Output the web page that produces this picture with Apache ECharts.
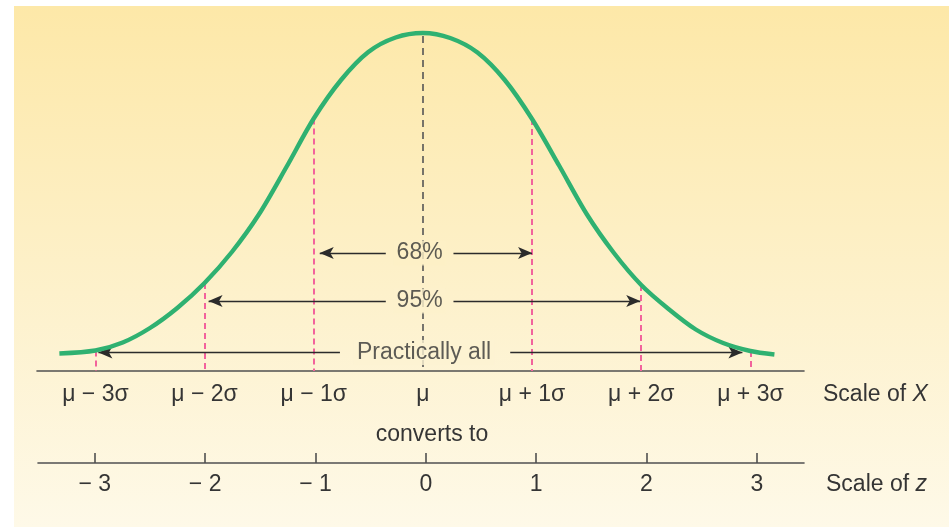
<!DOCTYPE html>
<html>
<head>
<meta charset="utf-8">
<title>Normal distribution: scale of X and scale of z</title>
<script src="https://cdn.jsdelivr.net/npm/echarts@6/dist/echarts.min.js"></script>
<style>
  html, body { margin: 0; padding: 0; background: #fff; }
  #chart {
    width: 949px; height: 527px;
    background: linear-gradient(180deg, #fde8a8 0%, #fdf1cb 55%, #fef9e8 100%) 14px 6px / 935px 521px no-repeat, #fff;
  }
</style>
</head>
<body>
<div id="chart"></div>
<script>
// ---- data ----
const tickValues  = [-3, -2, -1, 0, 1, 2, 3];
const xTickLabels = ['μ − 3σ', 'μ − 2σ', 'μ − 1σ', 'μ', 'μ + 1σ', 'μ + 2σ', 'μ + 3σ'];
const zTickLabels = ['− 3', '− 2', '− 1', '0', '1', '2', '3'];

// bell curve: height above the X-scale line at positions measured in standard deviations
const curveZ = [-3.33, -3, -2.75, -2.5, -2.25, -2, -1.75, -1.5, -1.25, -1, -0.75, -0.5, -0.25, 0,
                0.25, 0.5, 0.75, 1, 1.25, 1.5, 1.75, 2, 2.25, 2.5, 2.75, 3, 3.22];
const curveH = [17.5, 20.5, 28.5, 43, 63, 88, 119, 157, 204, 252.5, 291, 319, 333.5, 338,
                333, 318.5, 291, 252, 205, 157, 118, 86, 62, 41.5, 28, 20, 16.5];

const sigmaMarks = [-3, -2, -1, 1, 2, 3];
const bandNames  = ['68%', '95%', 'Practically all'];
const bandSigma  = [1, 2, 3];

// ---- layout ----
const FONT = '"Liberation Sans", Arial, Helvetica, sans-serif';
const FS = 23;
const TEXT = '#353535';
const PX = 109.17;                      // pixels per σ on the X scale
const LAYOUT = {
  bandY:     [118, 70, 18.5],           // arrow heights above the X line
  bandLabelX:[-0.03, -0.03, 0.01],
  bandInner: [[-0.34, 0.28], [-0.34, 0.28], [-0.76, 0.80]],
  tipInset:  [[6, 0], [4, 1], [3, 8]]   // px between arrow tip and the σ line
};

const hAt = z => curveH[curveZ.indexOf(z)];
const topCol = [253, 232, 168], midCol = [253, 241, 203], botCol = [254, 249, 232];
function bgAt(y) {
  const t = (y - 6) / 521;
  const a = t < 0.55 ? topCol : midCol, b = t < 0.55 ? midCol : botCol;
  const u = t < 0.55 ? t / 0.55 : (t - 0.55) / 0.45;
  return 'rgb(' + a.map((c, i) => Math.round(c + (b[i] - c) * u)).join(',') + ')';
}

// markLine items: pink σ lines, black mean line, arrows
const lines = [];
sigmaMarks.forEach(z => {
  lines.push([{ coord: [z, hAt(z)] }, { coord: [z, 0] }]);
});
lines.push([
  { coord: [0, hAt(0) - 3], lineStyle: { color: '#555', type: [7, 5], width: 1.6 } },
  { coord: [0, 0] }
]);
bandNames.forEach((n, i) => {
  const y = LAYOUT.bandY[i], s = bandSigma[i];
  const arrowStyle = { color: '#2b2b2b', type: 'solid', width: 1.3 };
  lines.push([
    { coord: [LAYOUT.bandInner[i][0], y], symbol: 'none', lineStyle: arrowStyle },
    { coord: [-s + LAYOUT.tipInset[i][0] / PX, y], symbol: 'arrow', symbolSize: [9, 14] }
  ]);
  lines.push([
    { coord: [LAYOUT.bandInner[i][1], y], symbol: 'none', lineStyle: arrowStyle },
    { coord: [s - LAYOUT.tipInset[i][1] / PX, y], symbol: 'arrow', symbolSize: [9, 14] }
  ]);
});

const richScale = {
  n: { fill: TEXT, fontSize: FS, fontFamily: FONT },
  i: { fill: TEXT, fontSize: FS, fontFamily: FONT, fontStyle: 'italic' }
};

const chart = echarts.init(document.getElementById('chart'), null, { renderer: 'canvas' });

chart.setOption({
  backgroundColor: 'transparent',
  animation: false,
  grid: [
    { left: 37, width: 767, top: 31, height: 340 },
    { left: 38, width: 766, top: 100, height: 363 }
  ],
  xAxis: [
    {
      type: 'value', gridIndex: 0, min: -3.535, max: 3.491,
      axisLine: { show: true, lineStyle: { color: '#505050', width: 1.6 } },
      axisTick: { show: false },
      splitLine: { show: false },
      axisLabel: {
        customValues: tickValues, margin: 12,
        formatter: v => xTickLabels[tickValues.indexOf(v)],
        color: TEXT, fontSize: FS, fontFamily: FONT
      }
    },
    {
      type: 'value', gridIndex: 1, min: -3.515, max: 3.428,
      axisLine: { show: true, lineStyle: { color: '#505050', width: 1.6 } },
      axisTick: { show: true, customValues: tickValues, inside: true, length: 10, lineStyle: { color: '#505050', width: 1.6 } },
      splitLine: { show: false },
      axisLabel: {
        customValues: tickValues, margin: 10,
        formatter: v => zTickLabels[tickValues.indexOf(v)],
        color: TEXT, fontSize: FS, fontFamily: FONT
      }
    }
  ],
  yAxis: [
    { type: 'value', gridIndex: 0, min: 0, max: 340, show: false },
    { type: 'value', gridIndex: 1, min: 0, max: 1, show: false }
  ],
  series: [
    {
      type: 'line', xAxisIndex: 0, yAxisIndex: 0,
      data: curveZ.map((z, i) => [z, curveH[i]]),
      smooth: 0.3, symbol: 'none', z: 5,
      lineStyle: { color: '#2fb171', width: 4.4 },
      markLine: {
        silent: true, animation: false,
        symbol: ['none', 'none'],
        label: { show: false },
        lineStyle: { color: '#f2639c', type: [6, 4], width: 2 },
        emphasis: { disabled: true },
        data: lines
      }
    },
    {
      type: 'scatter', xAxisIndex: 0, yAxisIndex: 0, symbolSize: 0, z: 6,
      data: bandNames.map((n, i) => ({
        name: n,
        value: [LAYOUT.bandLabelX[i], LAYOUT.bandY[i]],
        label: { backgroundColor: bgAt(371 - LAYOUT.bandY[i]) }
      })),
      label: {
        show: true, position: 'inside', formatter: '{b}',
        color: TEXT, fontSize: FS, fontFamily: FONT, padding: [1, 3]
      }
    }
  ],
  graphic: [
    {
      type: 'text',
      style: { text: 'converts to', fill: TEXT, font: FS + 'px ' + FONT, x: 432, y: 435, align: 'center', verticalAlign: 'middle' }
    },
    {
      type: 'text',
      style: { x: 823, y: 395, verticalAlign: 'middle', text: '{n|Scale of }{i|X}', rich: richScale }
    },
    {
      type: 'text',
      style: { x: 826, y: 485, verticalAlign: 'middle', text: '{n|Scale of }{i|z}', rich: richScale }
    }
  ]
});
</script>
</body>
</html>
